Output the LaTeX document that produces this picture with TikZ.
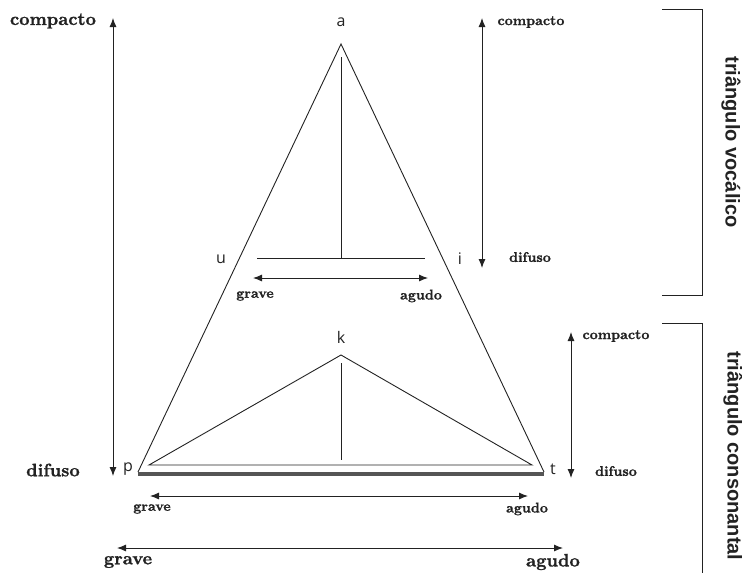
\documentclass[tikz,border=0pt]{standalone}
\usepackage{fontspec}
\newfontfamily\sansf{Open Sans}
\newfontfamily\serb{lmroman10-bold}[Extension=.otf, FakeBold=1.2]
\newfontfamily\arialb{Liberation Sans Bold}
\usetikzlibrary{arrows.meta}
\definecolor{ink}{HTML}{222222}
\definecolor{barc}{HTML}{555555}
\tikzset{
  ln/.style={draw=ink, line width=0.9pt},
  dbl/.style={draw=ink, line width=0.9pt, {Latex[length=9pt,width=7pt]}-{Latex[length=9pt,width=7pt]}},
  bigl/.style={inner sep=0pt, text=ink, font=\serb\fontsize{18}{20}\selectfont},
  smalll/.style={inner sep=0pt, text=ink, font=\serb\fontsize{14}{16}\selectfont},
  phon/.style={inner sep=0pt, text=ink, font=\sansf\fontsize{16}{18}\selectfont},
  side/.style={inner sep=0pt, text=ink, rotate=-90, font=\arialb\fontsize{20}{22}\selectfont}
}
\begin{document}
\begin{tikzpicture}[x=1pt,y=-1pt]
\useasboundingbox (0,0) rectangle (742,573);
% phoneme labels
\node[phon] (a) at (341,22) {a};
\node[phon] (u) at (221,259) {u};
\node[phon] (i) at (460,259) {i};
\node[phon] (k) at (341,337) {k};
\node[phon] (p) at (128,469) {p};
\node[phon] (t) at (553,469) {t};
% geometry coordinates
\coordinate (A) at (341,44);
\coordinate (P) at (138,472);
\coordinate (T) at (544,472);
\coordinate (K) at (341,355);
\coordinate (Pi) at (149,465);
\coordinate (Ti) at (532,465);
% thick base bar
\draw[barc, line width=4pt] (138,474) -- (544,474);
% big triangle
\draw[ln] (P) -- (A) -- (T);
% inner triangle
\draw[ln] (Pi) -- (K) -- (Ti) -- cycle;
% vertical from a and u-i line
\coordinate (av1) at (341,57);
\coordinate (av2) at (341,258);
\coordinate (ul) at (257,258);
\coordinate (ir) at (425,258);
\draw[ln] (av1) -- (av2);
\draw[ln] (ul) -- (ir);
% vertical from k
\coordinate (kv1) at (341,363);
\coordinate (kv2) at (341,460);
\draw[ln] (kv1) -- (kv2);
% arrows
\coordinate (L1) at (113,18);
\coordinate (L2) at (113,476);
\draw[dbl] (L1) -- (L2);
\coordinate (R1) at (482,18);
\coordinate (R2) at (482,268);
\draw[dbl] (R1) -- (R2);
\coordinate (S1) at (571,332);
\coordinate (S2) at (571,478);
\draw[dbl] (S1) -- (S2);
\coordinate (G1) at (253,278);
\coordinate (G2) at (428,278);
\draw[dbl] (G1) -- (G2);
\coordinate (H1) at (150,496);
\coordinate (H2) at (528,496);
\draw[dbl] (H1) -- (H2);
\coordinate (B1) at (117,548);
\coordinate (B2) at (563,548);
\draw[dbl] (B1) -- (B2);
% labels
\node[bigl] (cl) at (53,21) {compacto};
\node[bigl] (dl) at (53,470) {difuso};
\node[smalll] (cr1) at (531,22) {compacto};
\node[smalll] (dr1) at (530,257) {difuso};
\node[smalll] (cr2) at (616,336) {compacto};
\node[smalll] (dr2) at (616,471) {difuso};
\node[smalll] (g1) at (255,296) {grave};
\node[smalll] (ag1) at (421,296) {agudo};
\node[smalll] (g2) at (152,509) {grave};
\node[smalll] (ag2) at (527,509) {agudo};
\node[bigl] (g3) at (128,562) {grave};
\node[bigl] (ag3) at (553,562) {agudo};
% brackets
\coordinate (b1a) at (662,9);
\coordinate (b1b) at (702,9);
\coordinate (b1c) at (702,295);
\coordinate (b1d) at (662,295);
\draw[ln] (b1a) -- (b1b) -- (b1c) -- (b1d);
\coordinate (b2a) at (662,323);
\coordinate (b2b) at (702,323);
\coordinate (b2c) at (702,575);
\draw[ln] (b2a) -- (b2b) -- (b2c);
\node[side] (tv) at (731,142) {triângulo vocálico};
\node[side] (tc) at (733,456) {triângulo consonantal};
\end{tikzpicture}
\end{document}
